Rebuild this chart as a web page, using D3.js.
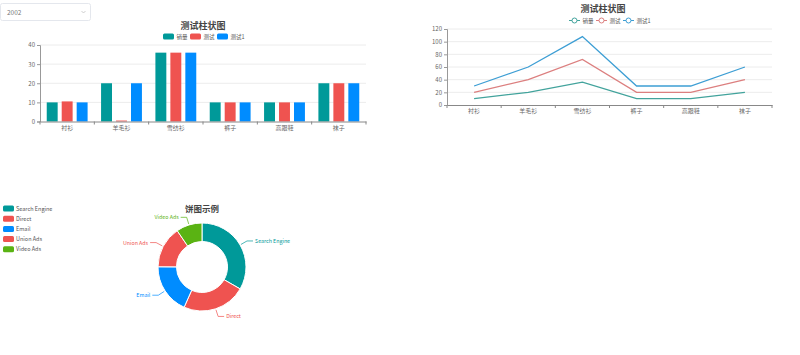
<!DOCTYPE html>
<html><head><meta charset="utf-8">
<script src="https://cdn.jsdelivr.net/npm/d3@7"></script>
<style>body{margin:0;background:#fff;font-family:"Microsoft YaHei","Noto Sans CJK SC",sans-serif;}svg{display:block}</style>
</head><body>
<svg id="c" width="800" height="355"></svg>
<script>
const categories = ["衬衫","羊毛衫","雪纺衫","裤子","高跟鞋","袜子"];
const seriesNames = ["销量","测试","测试1"];
const barSales = [10,20,36,10,10,20];
const barTest = [10.5,0.5,36,10,10,20];
const barTest1 = [10,20,36,10,10,20];
const lineSales = [10,20,36,10,10,20];
const lineTest = [10,20,36,10,10,20];
const lineTest1 = [10,20,36,10,10,20];
const barTicks = [0,10,20,30,40];
const lineTicks = [0,20,40,60,80,100,120];
const pieNames = ["Search Engine","Direct","Email","Union Ads","Video Ads"];
const pieValues = [1048,735,580,484,300];
const yearLabel = "2002";

const barColors = ["#009999","#ef5350","#008cff"];
const lineColors = ["#42a39c","#dc7f7f","#3d9ed4"];
const pieColors = ["#009999","#ef5350","#008cff","#ef5350","#5ab313"];
const FONT = '"Microsoft YaHei","Noto Sans CJK SC",sans-serif';
const svg = d3.select("#c");

// dropdown
svg.append("rect").attr("x",0.5).attr("y",3.5).attr("width",90).attr("height",17).attr("rx",2)
  .attr("fill","#fff").attr("stroke","#e4e7ed");
svg.append("text").attr("x",7).attr("y",14.5).attr("font-size",6.5).attr("fill","#777").attr("font-family",FONT).text(yearLabel);
svg.append("path").attr("d","M81.5,11 L83.5,13 L85.5,11").attr("fill","none").attr("stroke","#bbb").attr("stroke-width",0.7);

function axisStyle(g){
  g.selectAll("text").attr("font-size",6).attr("fill","#666").attr("font-family",FONT);
}

// ---------- Bar chart ----------
{
  const left=40, right=366, top=45, bottom=121.5;
  const x = d3.scaleBand().domain(categories).range([left,right]);
  const y = d3.scaleLinear().domain([0,40]).range([bottom,top]);
  const xs = d3.scaleBand().domain(seriesNames).range([0,x.bandwidth()]).paddingInner(0.27).paddingOuter(0.45);
  const g = svg.append("g");
  g.selectAll(".grid").data(barTicks.filter(t=>t>0)).join("line")
    .attr("x1",left).attr("x2",right).attr("y1",d=>y(d)).attr("y2",d=>y(d)).attr("stroke","#ececec").attr("stroke-width",1);
  const series=[barSales,barTest,barTest1];
  series.forEach((s,i)=>{
    g.selectAll(".b"+i).data(s).join("rect")
      .attr("x",(d,j)=>x(categories[j])+xs(seriesNames[i]))
      .attr("y",d=>y(d)).attr("width",xs.bandwidth()).attr("height",d=>bottom-y(d))
      .attr("fill",barColors[i]);
  });
  const ya = g.append("g").attr("transform",`translate(${left},0)`)
    .call(d3.axisLeft(y).tickValues(barTicks).tickSize(3).tickPadding(2));
  ya.select(".domain").attr("stroke","#999");
  ya.selectAll(".tick line").attr("stroke","#999");
  axisStyle(ya);
  const xa = g.append("g").attr("transform",`translate(0,${bottom})`)
    .call(d3.axisBottom(x).tickSize(0).tickPadding(4));
  xa.select(".domain").attr("stroke","#888");
  axisStyle(xa);
  g.selectAll(".xt").data(d3.range(categories.length+1)).join("line")
    .attr("x1",i=>left+i*x.step()).attr("x2",i=>left+i*x.step()).attr("y1",bottom).attr("y2",bottom+3).attr("stroke","#888");
  g.append("text").attr("x",203).attr("y",28.5).attr("text-anchor","middle").attr("font-size",9).attr("font-weight","bold")
    .attr("fill","#444").attr("font-family",FONT).text("测试柱状图");
  const lx=[163,190,217];
  seriesNames.forEach((n,i)=>{
    g.append("rect").attr("x",lx[i]).attr("y",33.5).attr("width",11).attr("height",6).attr("rx",1.5).attr("fill",barColors[i]);
    g.append("text").attr("x",lx[i]+13.5).attr("y",39).attr("font-size",5.5).attr("fill","#555").attr("font-family",FONT).text(n);
  });
}

// ---------- Line chart (stacked) ----------
{
  const left=447, right=772, top=29, bottom=105;
  const x = d3.scaleBand().domain(categories).range([left,right]);
  const y = d3.scaleLinear().domain([0,120]).range([bottom,top]);
  const g = svg.append("g");
  g.selectAll(".grid").data(lineTicks.filter(t=>t>0)).join("line")
    .attr("x1",left).attr("x2",right).attr("y1",d=>y(d)).attr("y2",d=>y(d)).attr("stroke","#ececec");
  const raw=[lineSales,lineTest,lineTest1];
  const stacked=[]; let acc=categories.map(()=>0);
  raw.forEach(s=>{acc=acc.map((a,j)=>a+s[j]); stacked.push(acc.slice());});
  const line=d3.line().x((d,j)=>x(categories[j])+x.bandwidth()/2).y(d=>y(d));
  stacked.forEach((s,i)=>{
    g.append("path").attr("d",line(s)).attr("fill","none").attr("stroke",lineColors[i]).attr("stroke-width",1.3);
  });
  const ya = g.append("g").attr("transform",`translate(${left},0)`)
    .call(d3.axisLeft(y).tickValues(lineTicks).tickSize(3).tickPadding(2));
  ya.select(".domain").attr("stroke","#999");
  ya.selectAll(".tick line").attr("stroke","#999");
  axisStyle(ya);
  const xa = g.append("g").attr("transform",`translate(0,${bottom})`)
    .call(d3.axisBottom(x).tickSize(0).tickPadding(4));
  xa.select(".domain").attr("stroke","#888");
  axisStyle(xa);
  g.selectAll(".xt").data(d3.range(categories.length+1)).join("line")
    .attr("x1",i=>left+i*x.step()).attr("x2",i=>left+i*x.step()).attr("y1",bottom).attr("y2",bottom+3).attr("stroke","#888");
  g.append("text").attr("x",603).attr("y",11.5).attr("text-anchor","middle").attr("font-size",9).attr("font-weight","bold")
    .attr("fill","#444").attr("font-family",FONT).text("测试柱状图");
  const lx=[569,596,623];
  seriesNames.forEach((n,i)=>{
    g.append("line").attr("x1",lx[i]).attr("x2",lx[i]+11).attr("y1",20.5).attr("y2",20.5).attr("stroke",lineColors[i]).attr("stroke-width",1);
    g.append("circle").attr("cx",lx[i]+5.5).attr("cy",20.5).attr("r",2.5).attr("fill","#fff").attr("stroke",lineColors[i]).attr("stroke-width",1);
    g.append("text").attr("x",lx[i]+13.5).attr("y",22.5).attr("font-size",5.5).attr("fill","#555").attr("font-family",FONT).text(n);
  });
}

// ---------- Pie (donut) ----------
{
  const cx=202, cy=267, rO=44, rI=25.5;
  const g = svg.append("g").attr("transform",`translate(${cx},${cy})`);
  const pie = d3.pie().sort(null).value(d=>d)(pieValues);
  const arc = d3.arc().innerRadius(rI).outerRadius(rO);
  g.selectAll("path").data(pie).join("path").attr("d",arc)
    .attr("fill",(d,i)=>pieColors[i]).attr("stroke","#fff").attr("stroke-width",1);
  pie.forEach((d,i)=>{
    const a=(d.startAngle+d.endAngle)/2;
    const sx=Math.sin(a), sy=-Math.cos(a);
    const p1=[sx*(rO+1), sy*(rO+1)];
    const p2=[sx*(rO+8), sy*(rO+8)];
    const dir = sx>=0?1:-1;
    const p3=[p2[0]+dir*6, p2[1]];
    g.append("path").attr("d",`M${p1}L${p2}L${p3}`).attr("fill","none").attr("stroke",pieColors[i]).attr("stroke-width",0.7);
    g.append("text").attr("x",p3[0]+dir*2).attr("y",p3[1]+2).attr("text-anchor",dir>0?"start":"end")
      .attr("font-size",5.3).attr("fill",pieColors[i]).attr("font-family",FONT).text(pieNames[i]);
  });
  svg.append("text").attr("x",202).attr("y",212).attr("text-anchor","middle").attr("font-size",8.5).attr("font-weight","bold")
    .attr("fill","#444").attr("font-family",FONT).text("饼图示例");
  pieNames.forEach((n,i)=>{
    svg.append("rect").attr("x",3).attr("y",205.5+i*10.2).attr("width",11).attr("height",6).attr("rx",1.5).attr("fill",pieColors[i]);
    svg.append("text").attr("x",16).attr("y",210.5+i*10.2).attr("font-size",5.5).attr("fill","#555").attr("font-family",FONT).text(n);
  });
}
</script>
</body></html>
